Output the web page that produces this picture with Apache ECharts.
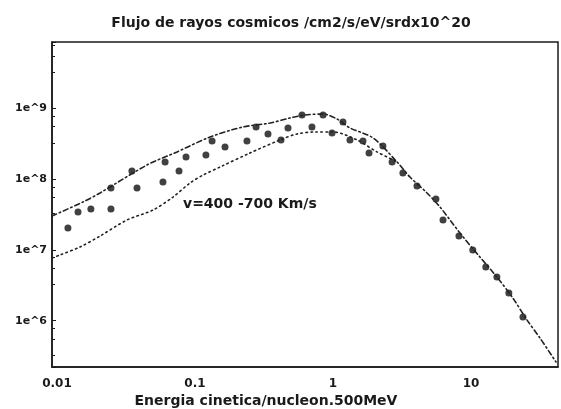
<!DOCTYPE html>
<html>
<head>
<meta charset="utf-8">
<script src="https://cdn.jsdelivr.net/npm/echarts@6/dist/echarts.min.js"></script>
<style>
html,body{margin:0;padding:0;background:#fff;}
#chart{width:561px;height:409px;}
</style>
</head>
<body>
<div id="chart"></div>
<script>
// Measured points (energy per nucleon in units of 500 MeV, flux x10^20)
var pointsX = [0.0120,0.0142,0.0176,0.0246,0.0246,0.0380,0.0349,0.0586,0.0607,0.0766,0.0861,0.120,0.133,0.165,0.238,0.277,0.338,0.420,0.472,0.596,0.704,0.847,0.984,1.181,1.327,1.649,2.30,1.824,2.68,3.21,4.06,5.57,6.27,8.18,10.3,12.8,15.4,18.8,23.8];
var pointsY = [2.04e7,3.43e7,3.79e7,3.79e7,7.49e7,7.49e7,1.30e8,9.10e7,1.75e8,1.30e8,2.05e8,2.19e8,3.45e8,2.84e8,3.45e8,5.45e8,4.34e8,3.57e8,5.27e8,8.04e8,5.45e8,8.04e8,4.48e8,6.40e8,3.57e8,3.45e8,2.94e8,2.34e8,1.75e8,1.22e8,8.00e7,5.24e7,2.64e7,1.57e7,9.98e6,5.73e6,4.14e6,2.46e6,1.13e6];

// Upper model curve (dash-dot)
var upperX = [0.0092,0.01542,0.02051,0.04487,0.0741,0.1285,0.2229,0.3497,0.4877,0.6266,0.847,1.069,1.327,1.950,2.91,3.61,4.80,5.96,8.32,11.6,15.4,20.1,25.5,31.6,41.3];
var upperY = [3.01e7,4.75e7,6.37e7,1.58e8,2.42e8,3.93e8,5.45e8,6.19e8,7.30e8,8.04e8,8.30e8,7.06e8,5.27e8,3.81e8,1.75e8,1.07e8,6.37e7,4.04e7,1.73e7,7.94e6,4.14e6,2.09e6,1.02e6,5.70e5,2.61e5];

// Lower model curve (dotted), joins the upper one near 3
var lowerX = [0.0092,0.01051,0.01468,0.02051,0.03213,0.04966,0.0693,0.0921,0.1143,0.1518,0.2505,0.4130,0.5484,0.7413,1.0,1.493,2.084,2.91];
var lowerY = [7.69e6,8.48e6,1.10e7,1.57e7,2.64e7,3.66e7,5.58e7,8.81e7,1.14e8,1.48e8,2.34e8,3.57e8,4.34e8,4.63e8,4.63e8,3.57e8,2.42e8,1.75e8];

var titleText = 'Flujo de rayos cosmicos /cm2/s/eV/srdx10^20';
var xName = 'Energia cinetica/nucleon.500MeV';
var noteText = 'v=400 -700 Km/s';

function zip(a, b) { return a.map(function (v, i) { return [v, b[i]]; }); }
function isPow10(v) { var l = Math.log10(v); return Math.abs(l - Math.round(l)) < 1e-6; }

var ink = '#1a1a1a';
var font = 'DejaVu Sans';
var chart = echarts.init(document.getElementById('chart'), null, {renderer: 'canvas'});
chart.setOption({
  backgroundColor: '#fff',
  animation: false,
  grid: {left: 52, right: 3, top: 42, bottom: 42, show: true, borderColor: ink, borderWidth: 1.5, backgroundColor: '#fff'},
  xAxis: {
    type: 'log', logBase: 10, min: 0.0092, max: 42.7,
    axisLine: {show: true, lineStyle: {color: ink, width: 1.5}},
    axisTick: {show: false},
    splitLine: {show: false},
    axisLabel: {
      color: ink, fontFamily: font, fontSize: 12, fontWeight: 'bold', margin: 11,
      showMinLabel: false, showMaxLabel: false,
      formatter: function (v) { return isPow10(v) ? String(Number(v.toPrecision(6))) : ''; }
    }
  },
  yAxis: {
    type: 'log', logBase: 10, min: 2.22e5, max: 8.63e9,
    axisLine: {show: true, lineStyle: {color: ink, width: 1.5}},
    axisTick: {show: true, inside: true, length: 4, lineStyle: {color: ink}},
    minorTick: {show: true, splitNumber: 4, length: 3, lineStyle: {color: ink}},
    splitLine: {show: false},
    axisLabel: {
      color: ink, fontFamily: font, fontSize: 11, fontWeight: 'bold', margin: 5,
      showMinLabel: false, showMaxLabel: false,
      formatter: function (v) { return isPow10(v) ? '1e^' + Math.round(Math.log10(v)) : ''; }
    }
  },
  series: [
    {
      type: 'line', data: zip(upperX, upperY), smooth: 0.3, symbol: 'none',
      lineStyle: {color: '#222', width: 1.6, type: [5, 3, 1.5, 3], cap: 'round'}
    },
    {
      type: 'line', data: zip(lowerX, lowerY), smooth: 0.3, symbol: 'none',
      lineStyle: {color: '#222', width: 1.6, type: [1.5, 3.5], cap: 'round'}
    },
    {
      type: 'scatter', data: zip(pointsX, pointsY), symbol: 'circle', symbolSize: 7,
      itemStyle: {color: '#111'}
    }
  ],
  graphic: [
    {type: 'text', x: 291, y: 23, style: {text: titleText, fill: ink, font: 'bold 14px "DejaVu Sans"', textAlign: 'center', textVerticalAlign: 'middle'}},
    {type: 'text', x: 266, y: 401, style: {text: xName, fill: ink, font: 'bold 14px "DejaVu Sans"', textAlign: 'center', textVerticalAlign: 'middle'}},
    {type: 'text', x: 183, y: 204, style: {text: noteText, fill: ink, font: 'bold 14px "DejaVu Sans"', textAlign: 'left', textVerticalAlign: 'middle'}}
  ]
});
</script>
</body>
</html>
